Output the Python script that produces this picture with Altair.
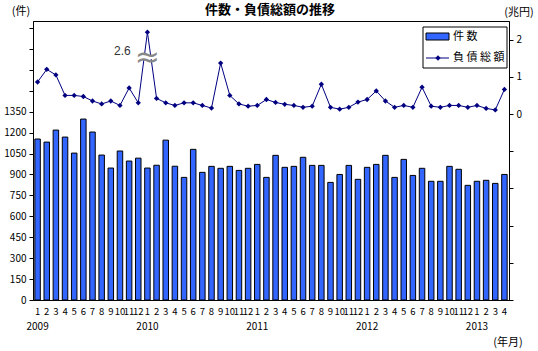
import altair as alt
import pandas as pd

years = [2009] * 12 + [2010] * 12 + [2011] * 12 + [2012] * 12 + [2013] * 4
months = list(range(1, 13)) * 4 + [1, 2, 3, 4]

counts = [1154, 1132, 1218, 1168, 1053, 1297, 1204, 1039, 946, 1068, 996, 1017,
          946, 966, 1146, 959, 879, 1080, 915, 958, 944, 958, 929, 944,
          972, 879, 1037, 951, 958, 1023, 965, 965, 843, 900, 965, 865,
          951, 972, 1037, 879, 1008, 893, 944, 851, 851, 958, 937, 822,
          851, 858, 836, 900]

liabilities = [0.86, 1.20, 1.05, 0.50, 0.50, 0.47, 0.35, 0.27, 0.35, 0.23, 0.70, 0.30,
               2.6, 0.42, 0.30, 0.23, 0.30, 0.30, 0.23, 0.16, 1.37, 0.50, 0.27, 0.21,
               0.23, 0.39, 0.31, 0.26, 0.23, 0.18, 0.21, 0.80, 0.18, 0.13, 0.18, 0.32,
               0.39, 0.62, 0.35, 0.18, 0.23, 0.18, 0.72, 0.21, 0.18, 0.23, 0.23, 0.18,
               0.23, 0.15, 0.11, 0.66]

break_cap = 2.2          # where the broken-axis peak is drawn
break_value_label = "2.6"

keys = [f"{y}-{m:02d}" for y, m in zip(years, months)]
df = pd.DataFrame({
    "key": keys,
    "count": counts,
    "liab": liabilities,
    "liab_plot": [min(v, break_cap) for v in liabilities],
})

year_keys = [k for k, m in zip(keys, months) if m == 1]
year_df = pd.DataFrame({"key": year_keys, "label": [k[:4] for k in year_keys]})

peak_key = keys[liabilities.index(max(liabilities))]
brk_df = pd.DataFrame({"key": [peak_key], "v": [1.53], "lv": [1.69], "label": [break_value_label]})

one = pd.DataFrame({"a": [0]})

FONT = "Noto Sans CJK JP"
BLUE = "#3366FF"
NAVY = "#000080"
R_DOMAIN = [-5, 2.5]

x_enc = alt.X("key:N", sort=keys,
              scale=alt.Scale(paddingInner=0.4, paddingOuter=0.2),
              axis=alt.Axis(title=None, ticks=False, labelAngle=0, labelPadding=6,
                            labelFontSize=9.5, labelFont=FONT, labelColor="black",
                            domainColor="black",
                            labelExpr="toNumber(substring(datum.value, 5, 7)) + ''",
                            labelOverlap=False))
x_plain = alt.X("key:N", sort=keys)

bars = alt.Chart(df).mark_bar(color=BLUE, stroke="black", strokeWidth=1).encode(
    x=x_enc,
    y=alt.Y("count:Q", scale=alt.Scale(domain=[0, 2000], nice=False),
            axis=alt.Axis(title=None, values=list(range(0, 2000, 150)), grid=False,
                          tickSize=4, tickColor="black", domainColor="black",
                          labelFont=FONT, labelFontSize=10, labelColor="black", labelPadding=3,
                          labelOverlap=False,
                          labelExpr="datum.value <= 1350 ? format(datum.value, 'd') : ''")),
)

line = alt.Chart(df).mark_line(color=NAVY, strokeWidth=1,
                               point=alt.OverlayMarkDef(shape="diamond", filled=True,
                                                        size=28, color=NAVY)).encode(
    x=x_plain,
    y=alt.Y("liab_plot:Q", scale=alt.Scale(domain=R_DOMAIN, nice=False),
            axis=alt.Axis(title=None, orient="right", values=[-5, -4, -3, -2, -1, 0, 1, 2],
                          grid=False, tickSize=4, tickColor="black", domainColor="black",
                          labelFont=FONT, labelFontSize=10, labelColor="black", labelPadding=3,
                          labelOverlap=False,
                          labelExpr="datum.value >= 0 ? format(datum.value, 'd') : ''")),
)

brk_white = alt.Chart(brk_df).mark_tick(color="white", thickness=4, size=20, opacity=1).encode(
    x=x_plain,
    y=alt.Y("v:Q", scale=alt.Scale(domain=R_DOMAIN, nice=False), axis=None),
)
brk_sym = alt.Chart(brk_df).mark_text(text="≈", fontSize=30, color="#888888",
                                      font="DejaVu Sans", baseline="middle", dy=1).encode(
    x=x_plain,
    y=alt.Y("v:Q", scale=alt.Scale(domain=R_DOMAIN, nice=False), axis=None),
)
brk_lbl = alt.Chart(brk_df).mark_text(fontSize=12, color="#333333", font="Liberation Sans",
                                      baseline="middle", dx=-25).encode(
    x=x_plain,
    y=alt.Y("lv:Q", scale=alt.Scale(domain=R_DOMAIN, nice=False), axis=None),
    text="label:N",
)

year_text = alt.Chart(year_df).mark_text(fontSize=10, font=FONT, color="black",
                                         baseline="middle").encode(
    x=x_plain,
    y=alt.value(306),
    text="label:N",
)

def txt(s, x, y, size=10, weight="normal", align="center"):
    return alt.Chart(one).mark_text(text=s, fontSize=size, fontWeight=weight, font=FONT,
                                    color="black", align=align, baseline="middle").encode(
        x=alt.value(x), y=alt.value(y))

title = txt("件数・負債総額の推移", 237, -11, size=13, weight="bold")
u_left = txt("(件)", -12, -9, size=11)
u_right = txt("(兆円)", 486, -8, size=11)
u_bottom = txt("(年月)", 475, 322, size=11)

leg_box = alt.Chart(one).mark_rect(fill="white", stroke="black", strokeWidth=1).encode(
    x=alt.value(390), x2=alt.value(474), y=alt.value(6), y2=alt.value(47))
leg_sw = alt.Chart(one).mark_rect(fill=BLUE, stroke="black", strokeWidth=1).encode(
    x=alt.value(393), x2=alt.value(416), y=alt.value(12), y2=alt.value(19))
leg_ln = alt.Chart(one).mark_rule(color=NAVY, strokeWidth=1).encode(
    x=alt.value(393), x2=alt.value(416), y=alt.value(37))
leg_pt = alt.Chart(one).mark_point(shape="diamond", filled=True, size=28, color=NAVY,
                                   opacity=1).encode(x=alt.value(405), y=alt.value(37))
leg_t1 = txt("件 数", 420, 16, size=11, align="left")
leg_t2 = txt("負 債 総 額", 420, 37, size=11, align="left")

chart = alt.layer(
    bars, line, brk_white, brk_sym, brk_lbl, year_text, title, u_left, u_right, u_bottom,
    leg_box, leg_sw, leg_ln, leg_pt, leg_t1, leg_t2,
).resolve_scale(y="independent").properties(
    width=476, height=279,
    autosize=alt.AutoSizeParams(type="none"),
    padding={"left": 33, "top": 21, "right": 29, "bottom": 51},
    background="white",
).configure_view(stroke="black", strokeWidth=1)

chart.save("out.html", embed_options={"renderer": "svg", "actions": False})
